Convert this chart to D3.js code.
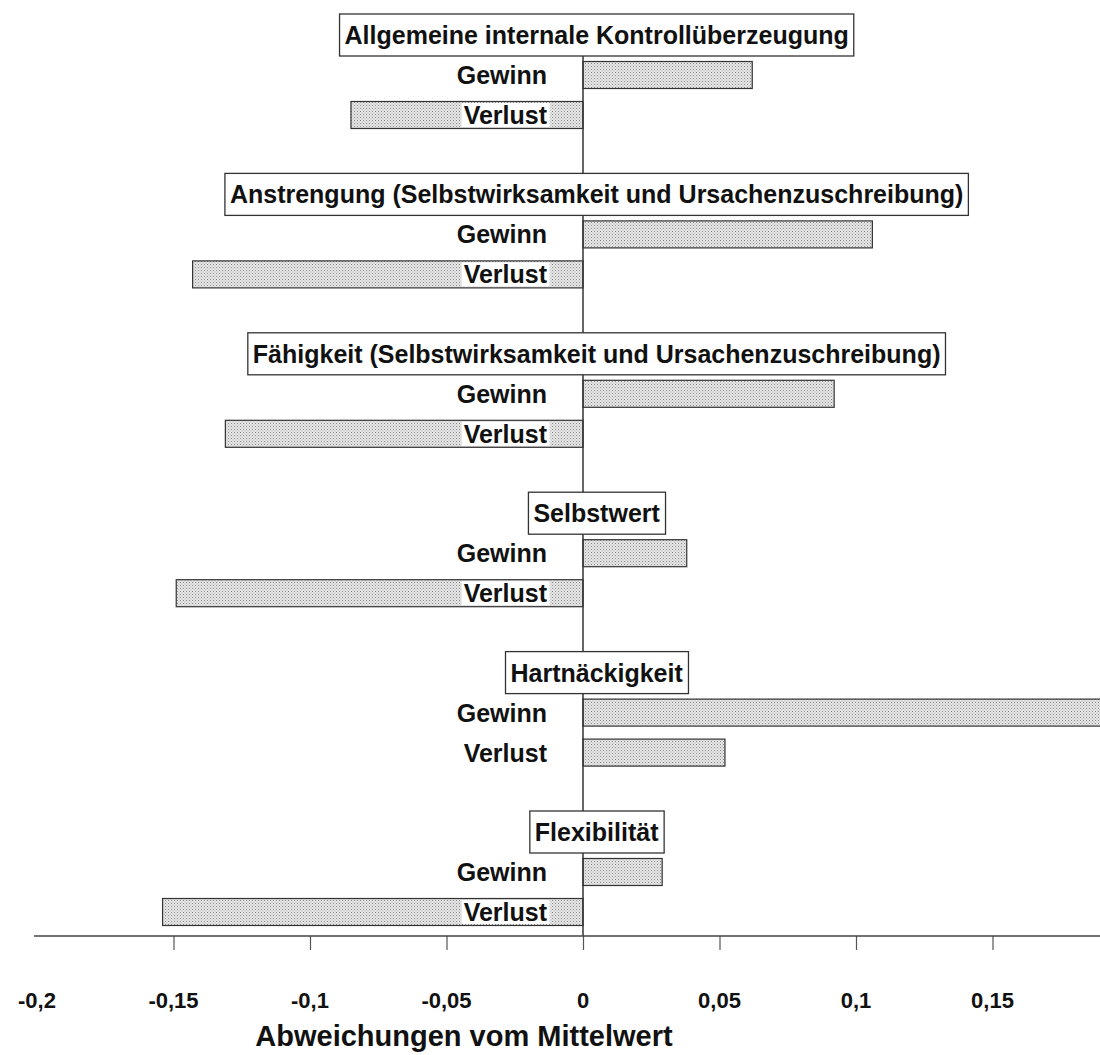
<!DOCTYPE html>
<html><head><meta charset="utf-8">
<script src="https://cdn.jsdelivr.net/npm/d3@7"></script>
<style>
html,body{margin:0;padding:0;background:#fff;}
svg{display:block;font-family:"Liberation Sans",Arial,Helvetica,sans-serif;}
</style></head>
<body>
<svg id="chart" width="1100" height="1055"></svg>
<script>
// ---- data ----
const groups = [
  "Allgemeine internale Kontrollüberzeugung",
  "Anstrengung (Selbstwirksamkeit und Ursachenzuschreibung)",
  "Fähigkeit (Selbstwirksamkeit und Ursachenzuschreibung)",
  "Selbstwert",
  "Hartnäckigkeit",
  "Flexibilität"
];
const seriesNames = ["Gewinn", "Verlust"];
const gewinn  = [0.062, 0.106, 0.092, 0.038, 0.200, 0.029];
const verlust = [-0.085, -0.143, -0.131, -0.149, 0.052, -0.154];
const tickValues = [-0.2, -0.15, -0.1, -0.05, 0, 0.05, 0.1, 0.15];
const tickLabels = ["-0,2", "-0,15", "-0,1", "-0,05", "0", "0,05", "0,1", "0,15"];
const axisTitle = "Abweichungen vom Mittelwert";

// ---- layout ----
const svg = d3.select("#chart");
const x = d3.scaleLinear().domain([-0.2, 0.2]).range([37, 1129]);
const gy = d3.scalePoint().domain(groups).range([35, 832]);
const rowY = d3.scalePoint().domain(["title", ...seriesNames]).range([0, 80]);
const barH = 27;
const axisY = 936;

// pattern for stippled bars
const defs = svg.append("defs");
const pat = defs.append("pattern").attr("id", "stip").attr("width", 3).attr("height", 3)
  .attr("patternUnits", "userSpaceOnUse");
pat.append("rect").attr("width", 3).attr("height", 3).attr("fill", "#e6e6e6");
pat.append("rect").attr("x", 0).attr("y", 0).attr("width", 1).attr("height", 1).attr("fill", "#8a8a8a");
pat.append("rect").attr("x", 1.5).attr("y", 1.5).attr("width", 1).attr("height", 1).attr("fill", "#b0b0b0");

// bars
const barData = [];
groups.forEach((g, i) => {
  barData.push({g, s: "Gewinn", v: gewinn[i]});
  barData.push({g, s: "Verlust", v: verlust[i]});
});
svg.append("g").selectAll("rect").data(barData).join("rect")
  .attr("x", d => x(Math.min(0, d.v)))
  .attr("width", d => Math.abs(x(d.v) - x(0)))
  .attr("y", d => gy(d.g) + rowY(d.s) - barH / 2)
  .attr("height", barH)
  .attr("fill", "url(#stip)")
  .attr("stroke", "#333")
  .attr("stroke-width", 1.2);

// zero line
svg.append("line")
  .attr("x1", x(0)).attr("x2", x(0))
  .attr("y1", gy(groups[0])).attr("y2", axisY)
  .attr("stroke", "#333").attr("stroke-width", 1.5);

// x axis
const xAxis = d3.axisBottom(x).tickValues(tickValues.filter(v => v > -0.2))
  .tickSize(14).tickFormat("");
const ax = svg.append("g").attr("transform", `translate(0,${axisY})`).call(xAxis);
ax.select(".domain").remove();
ax.selectAll(".tick line").attr("stroke", "#555").attr("stroke-width", 1.2);
svg.append("line").attr("x1", 34).attr("x2", 1100).attr("y1", axisY).attr("y2", axisY)
  .attr("stroke", "#444").attr("stroke-width", 1.5);

svg.append("g").selectAll("text").data(tickValues).join("text")
  .attr("x", d => x(d))
  .attr("y", 1008)
  .attr("text-anchor", "middle")
  .attr("font-size", 22).attr("font-weight", "bold").attr("fill", "#111")
  .text((d, i) => tickLabels[i]);

svg.append("text").attr("x", 464).attr("y", 1046)
  .attr("text-anchor", "middle").attr("font-size", 29).attr("font-weight", "bold")
  .attr("fill", "#111").text(axisTitle);

// series labels with white background
const lab = svg.append("g");
barData.forEach(d => {
  const t = lab.append("text")
    .attr("x", x(0) - 36)
    .attr("y", gy(d.g) + rowY(d.s))
    .attr("dy", "0.36em")
    .attr("text-anchor", "end")
    .attr("font-size", 25).attr("font-weight", "bold").attr("fill", "#111")
    .text(d.s);
  const bb = t.node().getBBox();
  lab.insert("rect", () => t.node())
    .attr("x", bb.x - 2).attr("y", bb.y + 2).attr("width", bb.width + 4).attr("height", bb.height - 4)
    .attr("fill", "#fff");
});

// group title boxes
const tg = svg.append("g");
groups.forEach(g => {
  const t = tg.append("text")
    .attr("x", x(0.005))
    .attr("y", gy(g) + rowY("title"))
    .attr("dy", "0.36em")
    .attr("text-anchor", "middle")
    .attr("font-size", 25).attr("font-weight", "bold").attr("fill", "#111")
    .text(g);
  const bb = t.node().getBBox();
  tg.insert("rect", () => t.node())
    .attr("x", bb.x - 5).attr("y", gy(g) - 21).attr("width", bb.width + 10).attr("height", 42)
    .attr("fill", "#fff").attr("stroke", "#333").attr("stroke-width", 1.3);
});
</script>
</body></html>
